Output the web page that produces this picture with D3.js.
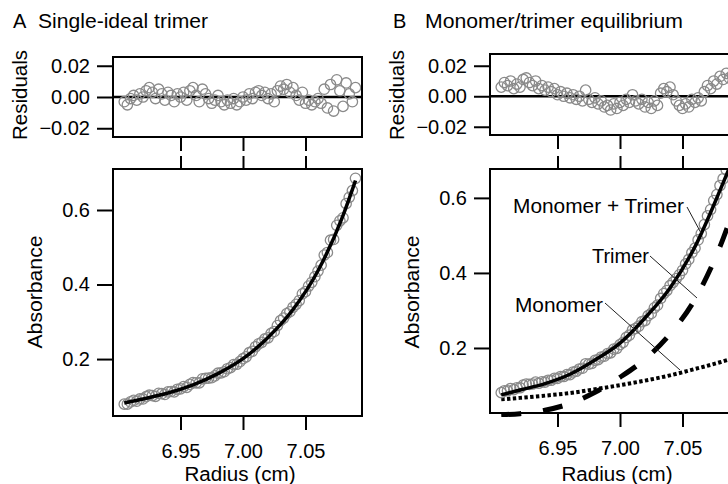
<!DOCTYPE html>
<html>
<head>
<meta charset="utf-8">
<script src="https://cdnjs.cloudflare.com/ajax/libs/d3/7.8.5/d3.min.js"></script>
<style>
  body { margin: 0; background: #fff; }
  svg { font-family: "Liberation Sans", Arial, Helvetica, sans-serif; }
</style>
</head>
<body>
<svg width="728" height="484"></svg>
<script>
// scan positions (cm), shared by both panels
var radius = [
  6.905, 6.9075, 6.91, 6.9125, 6.915, 6.9175, 6.92, 6.9225, 6.925, 6.9275,
  6.93, 6.9325, 6.935, 6.9375, 6.94, 6.9425, 6.945, 6.9475, 6.95, 6.9525,
  6.955, 6.9575, 6.96, 6.9625, 6.965, 6.9675, 6.97, 6.9725, 6.975, 6.9775,
  6.98, 6.9825, 6.985, 6.9875, 6.99, 6.9925, 6.995, 6.9975, 7.00, 7.0025,
  7.005, 7.0075, 7.01, 7.0125, 7.015, 7.0175, 7.02, 7.0225, 7.025, 7.0275,
  7.03, 7.0325, 7.035, 7.0375, 7.04, 7.0425, 7.045, 7.0475, 7.05, 7.0525,
  7.055, 7.0575, 7.06, 7.0625, 7.065, 7.0675, 7.07, 7.0725, 7.075, 7.0775,
  7.08, 7.0825, 7.085, 7.0875, 7.09
];

// panel A : single ideal trimer
var absA = [
  0.079, 0.079, 0.085, 0.089, 0.087, 0.093, 0.093, 0.099, 0.103, 0.102,
  0.100, 0.108, 0.107, 0.105, 0.112, 0.113, 0.112, 0.119, 0.120, 0.126,
  0.124, 0.132, 0.137, 0.136, 0.136, 0.147, 0.148, 0.149, 0.150, 0.155,
  0.162, 0.163, 0.166, 0.174, 0.177, 0.185, 0.186, 0.193, 0.201, 0.206,
  0.217, 0.221, 0.233, 0.241, 0.245, 0.254, 0.257, 0.269, 0.274, 0.290,
  0.303, 0.310, 0.322, 0.327, 0.339, 0.347, 0.357, 0.375, 0.381, 0.396,
  0.406, 0.421, 0.436, 0.452, 0.479, 0.486, 0.519, 0.521, 0.559, 0.571,
  0.579, 0.617, 0.634, 0.652, 0.685
];
var residA = [
  -0.003, -0.005, -0.001, 0.001, -0.002, 0.002, 0.000, 0.004, 0.006, 0.003,
  -0.001, 0.005, 0.002, -0.002, 0.003, 0.001, -0.003, 0.002, 0.000, 0.003,
  -0.002, 0.004, 0.006, 0.001, -0.003, 0.005, 0.002, -0.001, -0.004, -0.002,
  0.001, -0.003, -0.005, -0.002, -0.004, -0.001, -0.005, -0.003, 0.000, -0.002,
  0.002, -0.001, 0.003, 0.004, 0.001, 0.003, -0.001, 0.002, -0.003, 0.004,
  0.007, 0.005, 0.008, 0.003, 0.006, 0.001, -0.002, 0.003, -0.004, -0.002,
  -0.005, -0.003, -0.001, -0.004, 0.005, -0.007, 0.008, -0.009, 0.011, 0.004,
  -0.006, 0.009, 0.002, -0.003, 0.006
];

// panel B : monomer/trimer equilibrium
var absB = [
  0.081, 0.086, 0.086, 0.092, 0.089, 0.094, 0.094, 0.101, 0.104, 0.103,
  0.104, 0.109, 0.106, 0.110, 0.109, 0.114, 0.114, 0.119, 0.119, 0.124,
  0.124, 0.129, 0.129, 0.136, 0.138, 0.144, 0.146, 0.158, 0.157, 0.159,
  0.167, 0.169, 0.176, 0.178, 0.185, 0.187, 0.197, 0.199, 0.209, 0.215,
  0.228, 0.234, 0.248, 0.252, 0.258, 0.270, 0.273, 0.286, 0.292, 0.307,
  0.314, 0.332, 0.345, 0.353, 0.366, 0.375, 0.385, 0.395, 0.407, 0.424,
  0.436, 0.454, 0.466, 0.488, 0.505, 0.529, 0.552, 0.569, 0.593, 0.609,
  0.633, 0.651, 0.675, 0.692, 0.714
];
var residB = [
  0.006, 0.009, 0.007, 0.010, 0.005, 0.008, 0.006, 0.011, 0.012, 0.009,
  0.007, 0.010, 0.005, 0.007, 0.004, 0.006, 0.003, 0.005, 0.001, 0.003,
  0.000, 0.002, -0.001, 0.001, -0.002, 0.000, -0.003, 0.004, -0.002, -0.004,
  -0.001, -0.005, -0.003, -0.007, -0.006, -0.009, -0.005, -0.008, -0.004, -0.006,
  -0.002, -0.004, 0.001, -0.003, -0.005, -0.002, -0.007, -0.004, -0.008, -0.003,
  -0.006, 0.002, 0.005, 0.003, 0.006, 0.001, -0.003, -0.006, -0.008, -0.005,
  -0.007, -0.002, -0.004, -0.001, -0.003, 0.003, 0.007, 0.005, 0.010, 0.008,
  0.013, 0.011, 0.015, 0.012, 0.014
];

// fitted curves
var fitR = [6.905, 6.92, 6.94, 6.96, 6.98, 7.00, 7.02, 7.04, 7.06, 7.08, 7.09];
var fitA = [0.082, 0.093, 0.109, 0.131, 0.161, 0.201, 0.258, 0.333, 0.437, 0.585, 0.679];
var fitB = [0.075, 0.088, 0.105, 0.130, 0.168, 0.213, 0.280, 0.360, 0.470, 0.620, 0.700];
var monomerB = [0.063, 0.067, 0.073, 0.080, 0.090, 0.101, 0.113, 0.127, 0.144, 0.162, 0.172];
var trimerB = [0.022, 0.025, 0.034, 0.052, 0.082, 0.122, 0.170, 0.237, 0.330, 0.470, 0.560];

// ticks
var radiusTicks = [6.95, 7.00, 7.05];
var residTicks = [-0.02, 0.00, 0.02];
var absTicks = [0.2, 0.4, 0.6];

var FONT = '"Liberation Sans", Arial, Helvetica, sans-serif';
var FS = 20;
var svg = d3.select("svg");

function styleAxis(g) {
  g.attr("font-size", FS).attr("font-family", FONT);
  g.select(".domain").remove();
  g.selectAll(".tick line").attr("stroke", "#000").attr("stroke-width", 2);
  g.selectAll(".tick text").attr("fill", "#000");
}

function rotLabel(txt, x, y, len) {
  svg.append("text")
    .attr("transform", "translate(" + x + "," + y + ") rotate(-90)")
    .attr("text-anchor", "middle")
    .attr("font-size", FS)
    .attr("textLength", len)
    .attr("lengthAdjust", "spacingAndGlyphs")
    .text(txt);
}

function panel(p) {
  var x = d3.scaleLinear().domain([6.896, 7.0952]).range([p.left, p.left + 249]);
  var yr = d3.scaleLinear().domain(p.resDomain).range([p.resBottom, p.resTop]);
  var ya = d3.scaleLinear().domain(p.absDomain).range([p.absBottom, 169]);

  var defs = svg.append("defs");
  defs.append("clipPath").attr("id", "res" + p.name)
    .append("rect").attr("x", p.left).attr("y", p.resTop)
    .attr("width", 249).attr("height", p.resBottom - p.resTop);
  defs.append("clipPath").attr("id", "abs" + p.name)
    .append("rect").attr("x", p.left).attr("y", 169)
    .attr("width", 249).attr("height", p.absBottom - 169 + 4);

  // ---- residuals ----
  var gr = svg.append("g").attr("clip-path", "url(#res" + p.name + ")");
  gr.append("line")
    .attr("x1", p.left).attr("x2", p.left + 249)
    .attr("y1", yr(0)).attr("y2", yr(0))
    .attr("stroke", "#000").attr("stroke-width", 2.5);
  gr.selectAll("circle")
    .data(p.resid)
    .enter().append("circle")
      .attr("cx", function(d, i) { return x(radius[i]); })
      .attr("cy", function(d) { return yr(d); })
      .attr("r", 5.2)
      .attr("fill", "none")
      .attr("stroke", "#8a8a8a")
      .attr("stroke-width", 1.3);

  svg.append("rect")
    .attr("x", p.left).attr("y", p.resTop)
    .attr("width", 249).attr("height", p.resBottom - p.resTop)
    .attr("fill", "none").attr("stroke", "#000").attr("stroke-width", 2);

  svg.append("g")
    .attr("transform", "translate(" + p.left + ",0)")
    .call(d3.axisLeft(yr).tickValues(residTicks).tickFormat(d3.format(".2f")).tickSize(16).tickPadding(7))
    .call(styleAxis);
  svg.append("g")
    .attr("transform", "translate(0," + p.resBottom + ")")
    .call(d3.axisBottom(x).tickValues(radiusTicks).tickFormat("").tickSize(14))
    .call(styleAxis);

  // ---- absorbance ----
  var ga = svg.append("g").attr("clip-path", "url(#abs" + p.name + ")");
  var line = d3.line()
    .x(function(d, i) { return x(fitR[i]); })
    .y(function(d) { return ya(d); })
    .curve(d3.curveMonotoneX);

  if (p.monomer) {
    ga.append("path").datum(p.monomer)
      .attr("d", line).attr("fill", "none")
      .attr("stroke", "#000").attr("stroke-width", 4)
      .attr("stroke-dasharray", "3.4,2.4");
    ga.append("path").datum(p.trimer)
      .attr("d", line).attr("fill", "none")
      .attr("stroke", "#000").attr("stroke-width", 5)
      .attr("stroke-dasharray", "20,22");
  }

  ga.selectAll("circle")
    .data(p.abs)
    .enter().append("circle")
      .attr("cx", function(d, i) { return x(radius[i]); })
      .attr("cy", function(d) { return ya(d); })
      .attr("r", 5.2)
      .attr("fill", "none")
      .attr("stroke", "#8a8a8a")
      .attr("stroke-width", 1.3);

  ga.append("path").datum(p.fit)
    .attr("d", line).attr("fill", "none")
    .attr("stroke", "#000").attr("stroke-width", 3.5);

  svg.append("rect")
    .attr("x", p.left).attr("y", 169)
    .attr("width", 249).attr("height", p.absBottom - 169)
    .attr("fill", "none").attr("stroke", "#000").attr("stroke-width", 2);

  svg.append("g")
    .attr("transform", "translate(" + p.left + ",0)")
    .call(d3.axisLeft(ya).tickValues(absTicks).tickFormat(d3.format(".1f")).tickSize(16).tickPadding(7))
    .call(styleAxis);
  svg.append("g")
    .attr("transform", "translate(0,169)")
    .call(d3.axisTop(x).tickValues(radiusTicks).tickFormat("").tickSize(13))
    .call(styleAxis);
  svg.append("g")
    .attr("transform", "translate(0," + p.absBottom + ")")
    .call(d3.axisBottom(x).tickValues(radiusTicks).tickFormat(d3.format(".2f")).tickSize(14).tickPadding(14))
    .call(styleAxis);

  // titles and axis labels
  svg.append("text").attr("x", p.letterX).attr("y", 27.5).attr("font-size", FS).text(p.name);
  svg.append("text").attr("x", p.titleX).attr("y", 27.5).attr("font-size", FS)
    .attr("textLength", p.titleLen).attr("lengthAdjust", "spacingAndGlyphs")
    .text(p.title);
  rotLabel("Residuals", p.left - 86, 95, 90);
  rotLabel("Absorbance", p.left - 71, 292, 113);
  svg.append("text")
    .attr("x", p.left + 127).attr("y", 481)
    .attr("text-anchor", "middle").attr("font-size", FS)
    .attr("textLength", 111).attr("lengthAdjust", "spacingAndGlyphs")
    .text("Radius (cm)");
}

panel({
  name: "A", title: "Single-ideal trimer", letterX: 13, titleX: 38, titleLen: 170,
  left: 113, resTop: 57, resBottom: 137, resDomain: [-0.0256, 0.0256],
  absBottom: 416, absDomain: [0.0472, 0.710],
  abs: absA, resid: residA, fit: fitA
});

panel({
  name: "B", title: "Monomer/trimer equilibrium", letterX: 393, titleX: 425, titleLen: 258,
  left: 490, resTop: 54, resBottom: 135, resDomain: [-0.0254, 0.0277],
  absBottom: 413, absDomain: [0.0267, 0.677],
  abs: absB, resid: residB, fit: fitB, monomer: monomerB, trimer: trimerB
});

// callouts in panel B
var notes = [
  { text: "Monomer + Trimer", x: 513, y: 213, len: 171, lx1: 687, ly1: 207, lx2: 701, ly2: 233 },
  { text: "Trimer", x: 592, y: 263, len: 57, lx1: 650, ly1: 256, lx2: 697, ly2: 298 },
  { text: "Monomer", x: 515, y: 312, len: 88, lx1: 605, ly1: 303, lx2: 680, ly2: 370 }
];
var ng = svg.append("g");
ng.selectAll("text").data(notes).enter().append("text")
  .attr("x", function(d) { return d.x; })
  .attr("y", function(d) { return d.y; })
  .attr("font-size", FS)
  .attr("textLength", function(d) { return d.len; })
  .attr("lengthAdjust", "spacingAndGlyphs")
  .text(function(d) { return d.text; });
ng.selectAll("line").data(notes).enter().append("line")
  .attr("x1", function(d) { return d.lx1; })
  .attr("y1", function(d) { return d.ly1; })
  .attr("x2", function(d) { return d.lx2; })
  .attr("y2", function(d) { return d.ly2; })
  .attr("stroke", "#222").attr("stroke-width", 1);
</script>
</body>
</html>
